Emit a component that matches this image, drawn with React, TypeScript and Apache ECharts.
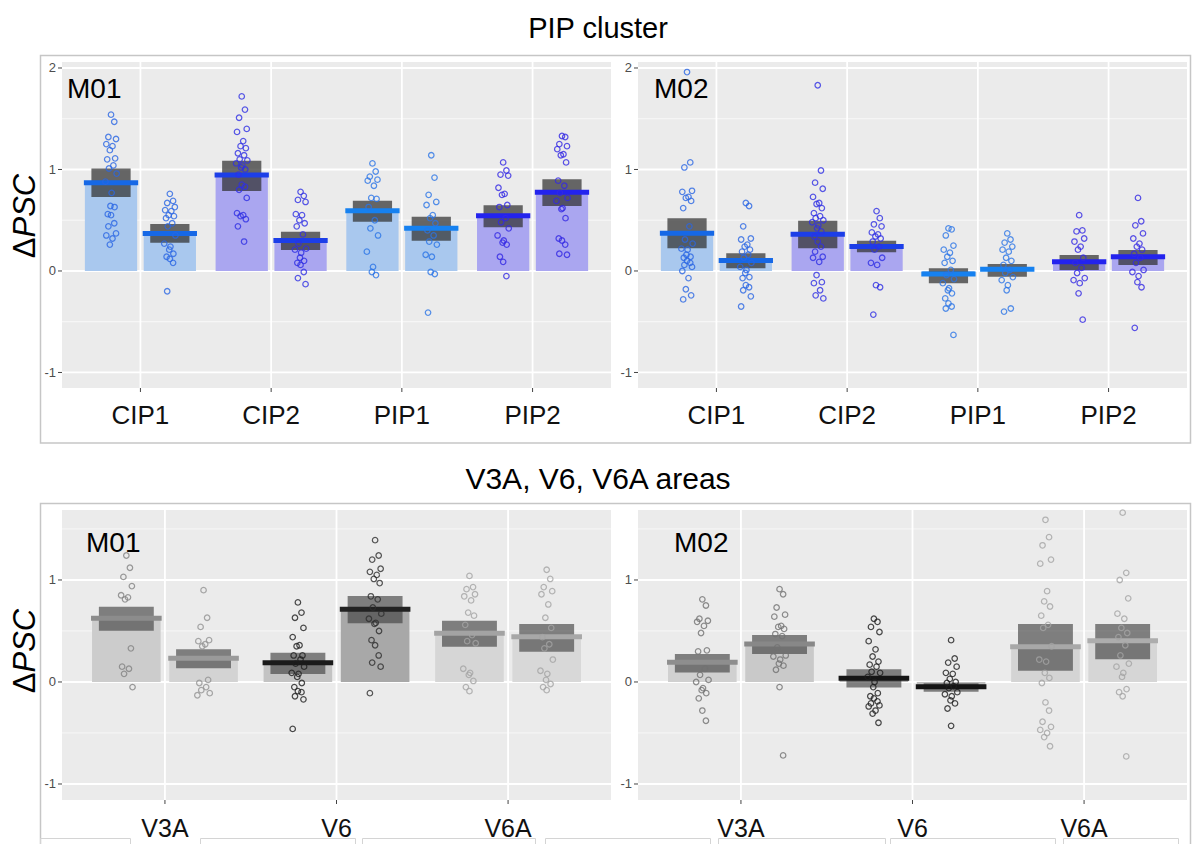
import React, { useEffect, useRef } from "react";
import * as echarts from "echarts";

// ---------- categories and ticks ----------
const PIP_CATEGORIES = ["CIP1", "CIP2", "PIP1", "PIP2"];
const AREA_CATEGORIES = ["V3A", "V6", "V6A"];
const MAJOR_TICKS = [-1, 0, 1, 2];
const MINOR_TICKS = [-0.5, 0.5, 1.5];

// ---------- PIP cluster, M01 (two bars per category: left, right) ----------
const M01_PIP_MEAN = [0.87, 0.37, 0.945, 0.3, 0.594, 0.42, 0.545, 0.775];
const M01_PIP_SE_LO = [0.73, 0.279, 0.788, 0.206, 0.486, 0.299, 0.43, 0.64];
const M01_PIP_SE_HI = [1.01, 0.463, 1.087, 0.387, 0.693, 0.535, 0.647, 0.903];
const M01_PIP_POINTS = [
  [1.54, 1.47, 1.32, 1.3, 1.25, 1.23, 1.19, 1.11, 1.1, 1.04, 1.01, 0.96, 0.88, 0.77, 0.64, 0.63, 0.56, 0.55, 0.47, 0.44, 0.37, 0.35, 0.32, 0.26],
  [0.76, 0.69, 0.67, 0.63, 0.6, 0.59, 0.55, 0.54, 0.52, 0.47, 0.44, 0.35, 0.27, 0.24, 0.21, 0.17, 0.14, 0.12, 0.08, -0.2],
  [1.72, 1.59, 1.51, 1.4, 1.37, 1.28, 1.23, 1.21, 1.16, 1.14, 1.1, 1.09, 1.06, 1.04, 1.02, 1.0, 0.95, 0.85, 0.83, 0.8, 0.72, 0.57, 0.55, 0.54, 0.51, 0.44, 0.29],
  [0.78, 0.74, 0.7, 0.68, 0.56, 0.55, 0.5, 0.47, 0.44, 0.36, 0.27, 0.22, 0.21, 0.18, 0.13, 0.1, 0.08, 0.06, -0.01, -0.07, -0.13],
  [1.06, 0.98, 0.93, 0.9, 0.89, 0.84, 0.72, 0.71, 0.63, 0.5, 0.42, 0.35, 0.19, 0.04, -0.01, -0.04],
  [1.14, 0.92, 0.75, 0.68, 0.65, 0.55, 0.52, 0.47, 0.4, 0.35, 0.29, 0.26, 0.16, 0.14, -0.01, -0.03, -0.41],
  [1.07, 0.99, 0.95, 0.94, 0.82, 0.76, 0.75, 0.65, 0.63, 0.52, 0.48, 0.42, 0.35, 0.3, 0.28, 0.26, 0.14, 0.09, -0.05],
  [1.33, 1.32, 1.25, 1.23, 1.2, 1.15, 1.14, 1.07, 0.89, 0.84, 0.77, 0.72, 0.69, 0.62, 0.61, 0.52, 0.32, 0.3, 0.26, 0.17, 0.16],
];

// ---------- PIP cluster, M02 ----------
const M02_PIP_MEAN = [0.371, 0.102, 0.361, 0.24, -0.03, 0.016, 0.092, 0.141];
const M02_PIP_SE_LO = [0.223, 0.026, 0.223, 0.184, -0.122, -0.056, 0.009, 0.059];
const M02_PIP_SE_HI = [0.519, 0.174, 0.496, 0.299, 0.026, 0.069, 0.157, 0.207];
const M02_PIP_POINTS = [
  [1.96, 1.07, 1.02, 0.79, 0.78, 0.73, 0.72, 0.69, 0.62, 0.44, 0.31, 0.27, 0.22, 0.21, 0.16, 0.14, 0.13, 0.1, 0.08, 0.06, 0.04, 0.0, -0.07, -0.18, -0.24, -0.28],
  [0.67, 0.64, 0.44, 0.32, 0.31, 0.26, 0.24, 0.21, 0.19, 0.16, 0.13, 0.08, 0.04, 0.01, -0.02, -0.06, -0.07, -0.14, -0.16, -0.19, -0.25, -0.35],
  [1.83, 0.99, 0.87, 0.81, 0.73, 0.67, 0.66, 0.62, 0.57, 0.54, 0.52, 0.5, 0.48, 0.45, 0.42, 0.39, 0.34, 0.29, 0.24, 0.19, 0.14, 0.13, 0.09, -0.04, -0.11, -0.12, -0.19, -0.24, -0.27],
  [0.59, 0.52, 0.46, 0.44, 0.38, 0.36, 0.34, 0.32, 0.29, 0.24, 0.21, 0.13, 0.08, 0.06, -0.14, -0.16, -0.43],
  [0.42, 0.41, 0.35, 0.25, 0.21, 0.18, 0.14, 0.1, 0.08, 0.01, -0.04, -0.08, -0.12, -0.17, -0.19, -0.22, -0.27, -0.32, -0.35, -0.37, -0.63],
  [0.37, 0.31, 0.28, 0.24, 0.21, 0.19, 0.13, 0.1, 0.06, 0.01, -0.02, -0.06, -0.09, -0.14, -0.19, -0.37, -0.4],
  [0.55, 0.4, 0.39, 0.32, 0.29, 0.24, 0.21, 0.13, 0.08, 0.03, -0.02, -0.07, -0.09, -0.12, -0.22, -0.48],
  [0.72, 0.49, 0.45, 0.37, 0.32, 0.27, 0.24, 0.21, 0.17, 0.13, 0.08, 0.01, -0.01, -0.05, -0.11, -0.16, -0.56],
];

// ---------- V3A, V6, V6A areas, M01 ----------
const M01_AREA_MEAN = [0.624, 0.232, 0.189, 0.712, 0.477, 0.444];
const M01_AREA_SE_LO = [0.503, 0.134, 0.078, 0.575, 0.346, 0.297];
const M01_AREA_SE_HI = [0.738, 0.32, 0.287, 0.843, 0.601, 0.568];
const M01_AREA_POINTS = [
  [1.24, 1.12, 1.03, 0.94, 0.85, 0.83, 0.81, 0.33, 0.15, 0.13, 0.08, -0.05],
  [0.9, 0.63, 0.54, 0.41, 0.4, 0.37, 0.35, 0.02, -0.01, -0.05, -0.08, -0.11, -0.13],
  [0.78, 0.68, 0.63, 0.53, 0.44, 0.36, 0.35, 0.26, 0.26, 0.22, 0.18, 0.15, 0.09, 0.08, 0.05, -0.01, -0.05, -0.09, -0.1, -0.14, -0.17, -0.46],
  [1.39, 1.24, 1.2, 1.11, 1.08, 1.05, 1.01, 0.97, 0.84, 0.81, 0.73, 0.67, 0.62, 0.58, 0.57, 0.5, 0.41, 0.36, 0.26, 0.19, 0.15, -0.11],
  [1.04, 0.93, 0.91, 0.86, 0.84, 0.8, 0.68, 0.65, 0.56, 0.46, 0.4, 0.38, 0.13, 0.09, 0.07, 0.01, -0.05, -0.09],
  [1.1, 1.01, 0.93, 0.89, 0.86, 0.76, 0.63, 0.53, 0.44, 0.37, 0.33, 0.22, 0.11, 0.08, 0.02, -0.02, -0.05, -0.08],
];

// ---------- V3A, V6, V6A areas, M02 ----------
const M02_AREA_MEAN = [0.193, 0.372, 0.036, -0.046, 0.346, 0.405];
const M02_AREA_SE_LO = [0.094, 0.274, -0.053, -0.095, 0.111, 0.222];
const M02_AREA_SE_HI = [0.274, 0.46, 0.124, -0.013, 0.568, 0.568];
const M02_AREA_POINTS = [
  [0.81, 0.75, 0.62, 0.6, 0.59, 0.55, 0.48, 0.31, 0.3, 0.13, 0.07, 0.02, 0.0, -0.06, -0.08, -0.11, -0.16, -0.28, -0.38],
  [0.91, 0.86, 0.73, 0.66, 0.64, 0.55, 0.54, 0.52, 0.47, 0.45, 0.34, 0.26, 0.25, 0.22, 0.18, 0.16, 0.12, -0.05, -0.72],
  [0.62, 0.59, 0.54, 0.49, 0.4, 0.32, 0.25, 0.2, 0.17, 0.15, 0.1, 0.09, 0.05, 0.0, -0.05, -0.11, -0.14, -0.16, -0.19, -0.21, -0.23, -0.24, -0.28, -0.31, -0.4],
  [0.41, 0.23, 0.19, 0.15, 0.09, 0.08, 0.03, 0.0, -0.01, -0.04, -0.06, -0.1, -0.12, -0.14, -0.18, -0.21, -0.26, -0.43],
  [1.59, 1.42, 1.34, 1.2, 1.16, 0.89, 0.79, 0.74, 0.65, 0.56, 0.53, 0.35, 0.22, 0.2, 0.09, 0.04, -0.01, -0.2, -0.28, -0.39, -0.44, -0.47, -0.5, -0.54, -0.63],
  [1.66, 1.07, 1.0, 0.82, 0.67, 0.62, 0.53, 0.48, 0.44, 0.36, 0.26, 0.18, 0.15, 0.09, 0.05, -0.07, -0.1, -0.14, -0.73],
];

// ---------- styling ----------
const FONT = '"Liberation Sans", Arial, Helvetica, sans-serif';
const BAR_W = 0.4;
const DODGE = 0.225;
// horizontal spread pattern for the jittered points (fraction of the jitter half-width)
const JITTER = [0, 0.55, -0.45, 0.85, -0.8, 0.25, -0.2, 0.7, -0.65, 0.4, -0.35, 0.95, -0.95, 0.1, -0.1, 0.6, -0.55];

const PIP_BAR_FILL = ["#a9c8ee", "#aaa6f0", "#a9c8ee", "#aaa6f0"];
const PIP_LINE = ["#1668e6", "#1c3ee8", "#1681f0", "#2323ee"];
const PIP_POINT = ["#2a66e4", "#3030e4", "#2a74e6", "#3328e4"];
const perCategory = (arr: string[]) => arr.flatMap((c) => [c, c]);

const M01_AREA_BAR_FILL = ["#cccccc", "#d3d3d3", "#c3c3c3", "#a8a8a8", "#d6d6d6", "#d8d8d8"];
const M01_AREA_LINE = ["#8c8c8c", "#9a9a9a", "#1a1a1a", "#222222", "#a3a3a3", "#a8a8a8"];
const M01_AREA_POINT = ["#828282", "#929292", "#1e1e1e", "#2e2e2e", "#a4a4a4", "#a4a4a4"];
const M02_AREA_BAR_FILL = ["#d0d0d0", "#c9c9c9", "#b9b9b9", "#bdbdbd", "#d4d4d4", "#d6d6d6"];
const M02_AREA_LINE = ["#8e8e8e", "#888888", "#151515", "#151515", "#a8a8a8", "#adadad"];
const M02_AREA_POINT = ["#727272", "#727272", "#1e1e1e", "#1e1e1e", "#a4a4a4", "#a4a4a4"];

type Panel = {
  grid: { left: number; top: number; width: number; height: number };
  cats: string[];
  yMin: number;
  yMax: number;
  means: number[];
  lo: number[];
  hi: number[];
  points: number[][];
  barFill: string[];
  lineColor: string[];
  pointColor: string[];
  seFill: string;
  seWidth: number;
  jitter: number;
  labelSize: number;
  labelGap: number;
};

const TOP_GRID = { top: 62, height: 326 };
const BOTTOM_GRID = { top: 510, height: 290 };

const PANELS: Panel[] = [
  {
    grid: { left: 62, width: 549, ...TOP_GRID },
    cats: PIP_CATEGORIES, yMin: -1.153, yMax: 2.059,
    means: M01_PIP_MEAN, lo: M01_PIP_SE_LO, hi: M01_PIP_SE_HI, points: M01_PIP_POINTS,
    barFill: perCategory(PIP_BAR_FILL), lineColor: perCategory(PIP_LINE), pointColor: perCategory(PIP_POINT),
    seFill: "rgba(48,48,48,0.72)", seWidth: 0.3, jitter: 0.045, labelSize: 26, labelGap: 27,
  },
  {
    grid: { left: 638, width: 549, ...TOP_GRID },
    cats: PIP_CATEGORIES, yMin: -1.153, yMax: 2.059,
    means: M02_PIP_MEAN, lo: M02_PIP_SE_LO, hi: M02_PIP_SE_HI, points: M02_PIP_POINTS,
    barFill: perCategory(PIP_BAR_FILL), lineColor: perCategory(PIP_LINE), pointColor: perCategory(PIP_POINT),
    seFill: "rgba(48,48,48,0.72)", seWidth: 0.3, jitter: 0.045, labelSize: 26, labelGap: 27,
  },
  {
    grid: { left: 62, width: 549, ...BOTTOM_GRID },
    cats: AREA_CATEGORIES, yMin: -1.157, yMax: 1.686,
    means: M01_AREA_MEAN, lo: M01_AREA_SE_LO, hi: M01_AREA_SE_HI, points: M01_AREA_POINTS,
    barFill: M01_AREA_BAR_FILL, lineColor: M01_AREA_LINE, pointColor: M01_AREA_POINT,
    seFill: "rgba(60,60,60,0.62)", seWidth: 0.32, jitter: 0.038, labelSize: 25, labelGap: 28,
  },
  {
    grid: { left: 638, width: 549, ...BOTTOM_GRID },
    cats: AREA_CATEGORIES, yMin: -1.157, yMax: 1.686,
    means: M02_AREA_MEAN, lo: M02_AREA_SE_LO, hi: M02_AREA_SE_HI, points: M02_AREA_POINTS,
    barFill: M02_AREA_BAR_FILL, lineColor: M02_AREA_LINE, pointColor: M02_AREA_POINT,
    seFill: "rgba(60,60,60,0.62)", seWidth: 0.32, jitter: 0.038, labelSize: 25, labelGap: 28,
  },
];

const xRange = (p: Panel) => [0.4, p.cats.length + 0.6];
const barX = (b: number) => Math.floor(b / 2) + 1 + (b % 2 === 0 ? -DODGE : DODGE);

function buildOption() {
  const grid: any[] = [];
  const xAxis: any[] = [];
  const yAxis: any[] = [];
  const series: any[] = [];

  PANELS.forEach((p, k) => {
    const [xMin, xMax] = xRange(p);
    grid.push({ ...p.grid, show: false, containLabel: false });
    xAxis.push({ type: "value", gridIndex: k, min: xMin, max: xMax, show: false });
    yAxis.push({ type: "value", gridIndex: k, min: p.yMin, max: p.yMax, show: false });

    // panel background, grid lines, ticks and tick labels
    series.push({
      type: "custom",
      xAxisIndex: k,
      yAxisIndex: k,
      z: 1,
      silent: true,
      data: [[1, 0]],
      encode: { x: 0, y: 1 },
      renderItem: (_params: any, api: any) => {
        const tl = api.coord([xMin, p.yMax]);
        const br = api.coord([xMax, p.yMin]);
        const children: any[] = [
          {
            type: "rect",
            shape: { x: tl[0], y: tl[1], width: br[0] - tl[0], height: br[1] - tl[1] },
            style: { fill: "#ebebeb" },
          },
        ];
        MINOR_TICKS.filter((v) => v > p.yMin && v < p.yMax).forEach((v) => {
          const y = api.coord([xMin, v])[1];
          children.push({
            type: "line",
            shape: { x1: tl[0], y1: y, x2: br[0], y2: y },
            style: { stroke: "#f9f9f9", lineWidth: 0.9 },
          });
        });
        MAJOR_TICKS.filter((v) => v > p.yMin && v < p.yMax).forEach((v) => {
          const y = api.coord([xMin, v])[1];
          children.push({
            type: "line",
            shape: { x1: tl[0], y1: y, x2: br[0], y2: y },
            style: { stroke: "#ffffff", lineWidth: 1.8 },
          });
          children.push({
            type: "line",
            shape: { x1: tl[0] - 4, y1: y, x2: tl[0], y2: y },
            style: { stroke: "#444444", lineWidth: 1 },
          });
          children.push({
            type: "text",
            x: tl[0] - 6,
            y: y,
            style: {
              text: String(v),
              fill: "#4d4d4d",
              fontSize: 13,
              fontFamily: FONT,
              align: "right",
              verticalAlign: "middle",
            },
          });
        });
        p.cats.forEach((c, i) => {
          const x = api.coord([i + 1, 0])[0];
          children.push({
            type: "line",
            shape: { x1: x, y1: tl[1], x2: x, y2: br[1] },
            style: { stroke: "#ffffff", lineWidth: 1.8 },
          });
          children.push({
            type: "line",
            shape: { x1: x, y1: br[1], x2: x, y2: br[1] + 4 },
            style: { stroke: "#444444", lineWidth: 1 },
          });
          children.push({
            type: "text",
            x: x,
            y: br[1] + p.labelGap,
            style: {
              text: c,
              fill: "#111111",
              fontSize: p.labelSize,
              fontFamily: FONT,
              align: "center",
              verticalAlign: "middle",
            },
          });
        });
        return { type: "group", children };
      },
    });

    // bars (0 to mean), standard-error boxes and mean lines
    series.push({
      type: "custom",
      xAxisIndex: k,
      yAxisIndex: k,
      z: 3,
      silent: true,
      data: p.means.map((m, b) => [barX(b), m, p.lo[b], p.hi[b]]),
      encode: { x: 0, y: 1 },
      renderItem: (params: any, api: any) => {
        const b = params.dataIndex;
        const x = api.value(0);
        const m = api.value(1);
        const lo = api.value(2);
        const hi = api.value(3);
        const a = api.coord([x - BAR_W / 2, m]);
        const z0 = api.coord([x + BAR_W / 2, 0]);
        const s1 = api.coord([x - p.seWidth / 2, hi]);
        const s2 = api.coord([x + p.seWidth / 2, lo]);
        return {
          type: "group",
          children: [
            {
              type: "rect",
              shape: { x: a[0], y: Math.min(a[1], z0[1]), width: z0[0] - a[0], height: Math.abs(z0[1] - a[1]) },
              style: { fill: p.barFill[b] },
            },
            {
              type: "rect",
              shape: { x: s1[0], y: s1[1], width: s2[0] - s1[0], height: s2[1] - s1[1] },
              style: { fill: p.seFill },
            },
            {
              type: "rect",
              shape: { x: a[0] - 1, y: a[1] - 2.5, width: z0[0] - a[0] + 2, height: 5 },
              style: { fill: p.lineColor[b] },
            },
          ],
        };
      },
    });

    // individual values as jittered open circles
    const pts: any[] = [];
    p.points.forEach((vals, b) => {
      vals.forEach((v, j) => {
        pts.push({
          value: [barX(b) + JITTER[j % JITTER.length] * p.jitter, v],
          itemStyle: { borderColor: p.pointColor[b] },
        });
      });
    });
    series.push({
      type: "scatter",
      xAxisIndex: k,
      yAxisIndex: k,
      z: 5,
      silent: true,
      clip: false,
      symbol: "circle",
      symbolSize: 5.5,
      itemStyle: { color: "rgba(255,255,255,0)", borderWidth: 1.25 },
      data: pts,
    });
  });

  const text = (x: number, y: number, t: string, size: number, align = "left") => ({
    type: "text",
    x,
    y,
    z: 100,
    silent: true,
    style: { text: t, fill: "#000000", fontSize: size, fontFamily: FONT, align, verticalAlign: "middle" },
  });

  const yTitle = (y: number) => ({
    type: "text",
    x: 24,
    y,
    rotation: Math.PI / 2,
    z: 100,
    silent: true,
    style: {
      text: "{d|Δ}{i|PSC}",
      align: "center",
      verticalAlign: "middle",
      rich: {
        d: { fontSize: 31, fontFamily: FONT, fill: "#000000" },
        i: { fontSize: 31, fontFamily: FONT, fontStyle: "italic", fill: "#000000" },
      },
    },
  });

  const frame = (y: number, h: number) => ({
    type: "rect",
    z: 0,
    silent: true,
    shape: { x: 40.5, y, width: 1150, height: h },
    style: { fill: "none", stroke: "#c6c6c6", lineWidth: 1.5 },
  });

  const footBoxes = [
    [40, 90], [200, 155], [362, 173], [545, 165], [718, 167], [890, 165], [1063, 115],
  ].map(([x, w]) => ({
    type: "rect",
    z: 0,
    silent: true,
    shape: { x: x + 0.5, y: 838.5, width: w, height: 20 },
    style: { fill: "none", stroke: "#d4d4d4", lineWidth: 1 },
  }));

  const graphic = [
    frame(55.5, 387.5),
    frame(503.5, 360),
    ...footBoxes,
    text(598, 28, "PIP cluster", 29, "center"),
    text(598, 478, "V3A, V6, V6A areas", 30, "center"),
    yTitle(216),
    yTitle(651),
    text(67, 88, "M01", 28),
    text(654, 88, "M02", 28),
    text(86, 542, "M01", 28),
    text(674, 542, "M02", 28),
  ];

  return {
    animation: false,
    backgroundColor: "#ffffff",
    grid,
    xAxis,
    yAxis,
    series,
    graphic,
  };
}

export default function App() {
  const ref = useRef<HTMLDivElement>(null);
  useEffect(() => {
    if (!ref.current) return;
    const chart = echarts.init(ref.current, undefined, { renderer: "svg" });
    chart.setOption(buildOption() as any);
    return () => chart.dispose();
  }, []);
  return (
    <div
      ref={ref}
      style={{ position: "absolute", left: 0, top: 0, width: 1192, height: 844 }}
    />
  );
}
